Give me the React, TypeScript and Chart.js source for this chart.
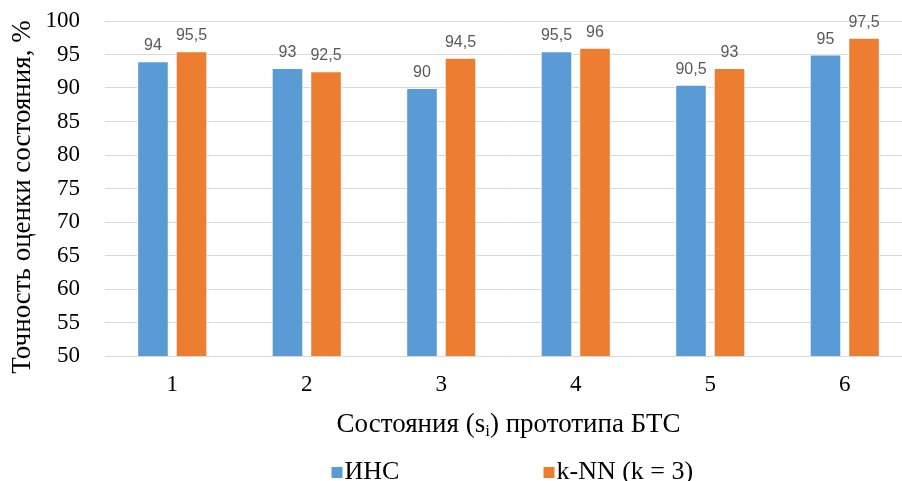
import React, { useEffect, useRef } from "react";
import { Chart, registerables } from "chart.js";

Chart.register(...registerables);

const categories = ["1", "2", "3", "4", "5", "6"];
const annValues = [94, 93, 90, 95.5, 90.5, 95];
const knnValues = [95.5, 92.5, 94.5, 96, 93, 97.5];
const seriesNames = ["ИНС", "k-NN (k = 3)"];
const yTitle = "Точность оценки состояния, %";
const xTitleParts = ["Состояния (s", "i", ") прототипа БТС"];

const BLUE = "#5B9BD5";
const ORANGE = "#ED7D31";
const SERIF = "'Liberation Serif', 'Times New Roman', serif";

const fmt = (v: number) => String(v).replace(".", ",");

const labelsPlugin = {
  id: "barLabels",
  afterDatasetsDraw(chart: any) {
    const ctx = chart.ctx;
    ctx.save();
    ctx.font = "16px 'Liberation Sans', Arial, sans-serif";
    ctx.fillStyle = "#595959";
    ctx.textAlign = "center";
    ctx.textBaseline = "alphabetic";
    chart.data.datasets.forEach((ds: any, i: number) => {
      const meta = chart.getDatasetMeta(i);
      meta.data.forEach((el: any, j: number) => {
        ctx.fillText(fmt(ds.data[j]), el.x, el.y - 11);
      });
    });
    ctx.restore();
  },
};

const decorPlugin = {
  id: "decor",
  afterDraw(chart: any) {
    const ctx = chart.ctx;
    const area = chart.chartArea;
    const cx = (area.left + area.right) / 2;
    ctx.save();
    ctx.fillStyle = "#000";
    // Y title
    ctx.font = `27px ${SERIF}`;
    ctx.textAlign = "center";
    ctx.textBaseline = "middle";
    ctx.save();
    ctx.translate(23, 197);
    ctx.rotate(-Math.PI / 2);
    ctx.fillText(yTitle, 0, 0);
    ctx.restore();
    // X title with subscript
    const bigFont = `27px ${SERIF}`;
    const smallFont = `17px ${SERIF}`;
    ctx.textAlign = "left";
    ctx.textBaseline = "alphabetic";
    ctx.font = bigFont;
    const w0 = ctx.measureText(xTitleParts[0]).width;
    const w2 = ctx.measureText(xTitleParts[2]).width;
    ctx.font = smallFont;
    const w1 = ctx.measureText(xTitleParts[1]).width;
    const total = w0 + w1 + w2;
    let x = cx - total / 2;
    const base = 432;
    ctx.font = bigFont;
    ctx.fillText(xTitleParts[0], x, base);
    x += w0;
    ctx.font = smallFont;
    ctx.fillText(xTitleParts[1], x, base + 4);
    x += w1;
    ctx.font = bigFont;
    ctx.fillText(xTitleParts[2], x, base);
    // Legend
    const colors = [BLUE, ORANGE];
    const starts = [cx - 177, cx + 35];
    ctx.textBaseline = "middle";
    ctx.font = `26px ${SERIF}`;
    seriesNames.forEach((name, i) => {
      ctx.fillStyle = colors[i];
      ctx.fillRect(starts[i], 467, 11, 11);
      ctx.fillStyle = "#000";
      ctx.fillText(name, starts[i] + 13, 472);
    });
    ctx.restore();
  },
};

export default function App() {
  const ref = useRef<HTMLCanvasElement | null>(null);
  useEffect(() => {
    document.body.style.margin = "0";
    document.body.style.overflow = "hidden";
    const chart = new Chart(ref.current as HTMLCanvasElement, {
      type: "bar",
      data: {
        labels: categories,
        datasets: [
          {
            label: seriesNames[0],
            data: annValues,
            backgroundColor: BLUE,
            borderColor: "#FFFFFF",
            borderWidth: 1,
            categoryPercentage: 0.573,
            barPercentage: 0.82,
          },
          {
            label: seriesNames[1],
            data: knnValues,
            backgroundColor: ORANGE,
            borderColor: "#FFFFFF",
            borderWidth: 1,
            categoryPercentage: 0.573,
            barPercentage: 0.82,
          },
        ],
      },
      options: {
        responsive: false,
        animation: false,
        layout: { padding: { top: 21, right: 2, left: 0, bottom: 0 } },
        plugins: {
          legend: { display: false },
          tooltip: { enabled: false },
        },
        scales: {
          x: {
            grid: { display: false },
            border: { display: false },
            ticks: {
              font: { family: SERIF, size: 23 },
              color: "#000",
              padding: 7,
            },
            afterFit: (s: any) => {
              s.height = 125;
              s.paddingLeft = 0;
              s.paddingRight = 0;
            },
          },
          y: {
            min: 50,
            max: 100,
            grid: { color: "#D9D9D9", drawTicks: false },
            border: { display: false },
            ticks: {
              stepSize: 5,
              font: { family: SERIF, size: 23 },
              color: "#000",
              padding: 25,
            },
            afterFit: (s: any) => {
              s.width = 105;
              s.paddingTop = 0;
              s.paddingBottom = 0;
            },
          },
        },
      },
      plugins: [labelsPlugin, decorPlugin],
    });
    return () => chart.destroy();
  }, []);
  return (
    <div style={{ width: 914, height: 481, background: "#fff" }}>
      <canvas ref={ref} width={914} height={481} />
    </div>
  );
}
